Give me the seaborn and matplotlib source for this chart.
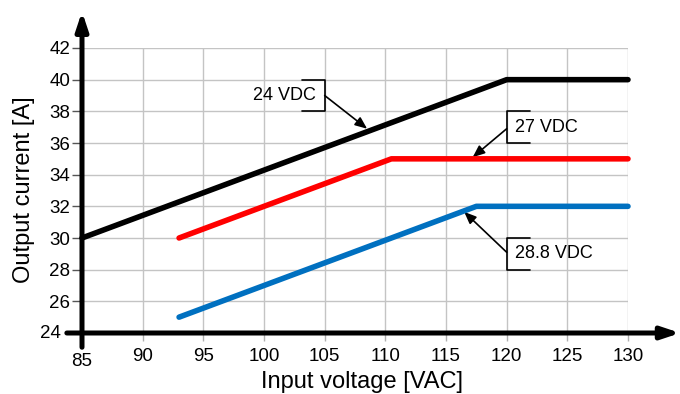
import pandas as pd
import matplotlib
matplotlib.use("Agg")
import matplotlib.pyplot as plt
import seaborn as sns

# derating curves: input voltage [VAC] -> output current [A]
voltage_24 = [85, 120, 130]
current_24 = [30, 40, 40]
voltage_27 = [93, 110.5, 130]
current_27 = [30, 35, 35]
voltage_288 = [93, 117.5, 130]
current_288 = [25, 32, 32]

series = ["24 VDC", "27 VDC", "28.8 VDC"]
colors = ["black", "#ff0000", "#0070c0"]

x_ticks = list(range(85, 131, 5))
y_ticks = list(range(24, 43, 2))

data = pd.concat([
    pd.DataFrame({"voltage": voltage_24, "current": current_24, "output": series[0]}),
    pd.DataFrame({"voltage": voltage_27, "current": current_27, "output": series[1]}),
    pd.DataFrame({"voltage": voltage_288, "current": current_288, "output": series[2]}),
])

sns.set_theme(style="white")
plt.rcParams["font.family"] = ["Liberation Sans", "DejaVu Sans"]
plt.rcParams["text.color"] = "black"

fig = plt.figure(figsize=(6.8, 3.94), dpi=100)
ax = fig.add_axes([82 / 680, 61 / 394, 546 / 680, 285 / 394])

sns.lineplot(data=data, x="voltage", y="current", hue="output",
             palette=colors, linewidth=4, solid_capstyle="round",
             legend=False, ax=ax, clip_on=False, zorder=5)

ax.set_xlim(85, 130)
ax.set_ylim(24, 42)
ax.set_xticks(x_ticks)
ax.set_yticks(y_ticks)
ax.set_xticklabels([""] + [str(v) for v in x_ticks[1:]])
ax.set_yticklabels([""] + [str(v) for v in y_ticks[1:]])
ax.grid(True, color="#c4c4c4", lw=1)
for s in ax.spines.values():
    s.set_visible(False)
ax.tick_params(axis="x", bottom=True, length=6, width=1, color="#b0b0b0",
               pad=5, labelsize=13.5, labelcolor="black")
ax.tick_params(axis="y", left=True, length=7, width=1, color="#555555",
               pad=1.5, labelsize=13.5, labelcolor="black")
ax.set_xlabel("")
ax.set_ylabel("")

# the 85 and 24 labels sit apart from the others
ax.annotate("85", xy=(85, 24), xytext=(0, -29), textcoords="offset pixels",
            ha="center", va="center", fontsize=13.5, annotation_clip=False)
ax.annotate("24", xy=(85, 24), xytext=(-21, 0), textcoords="offset pixels",
            ha="right", va="center", fontsize=13.5, annotation_clip=False)

# axis arrows
arrow = dict(arrowstyle="-|>,head_length=0.9,head_width=0.3", lw=3.6,
             color="black", shrinkA=0, shrinkB=0)
ax.annotate("", xy=(85, 44.3), xytext=(85, 23.1), arrowprops=arrow,
            annotation_clip=False, zorder=6)
ax.annotate("", xy=(134.3, 24), xytext=(83.75, 24), arrowprops=arrow,
            annotation_clip=False, zorder=6)

# callouts: bracket and pointer for every curve
thin = dict(color="black", lw=1.2)
pointer = dict(arrowstyle="-|>,head_length=0.6,head_width=0.25",
               lw=1.2, color="black", shrinkA=0, shrinkB=0)

ax.plot([103.1, 105, 105, 103.1], [40, 40, 38, 38], **thin, zorder=4)
ax.text(104.3, 39.0, "24 VDC", ha="right", va="center", fontsize=13, zorder=4)
ax.annotate("", xy=(108.5, 36.9), xytext=(105, 39), arrowprops=pointer, zorder=4)

ax.plot([121.9, 120, 120, 121.9], [38, 38, 36, 36], **thin, zorder=4)
ax.text(120.7, 37.0, "27 VDC", ha="left", va="center", fontsize=13, zorder=4)
ax.annotate("", xy=(117.2, 35.1), xytext=(120, 36.9), arrowprops=pointer, zorder=4)

ax.plot([121.9, 120, 120, 121.9], [30, 30, 28, 28], **thin, zorder=4)
ax.text(120.7, 29.05, "28.8 VDC", ha="left", va="center", fontsize=13, zorder=4)
ax.annotate("", xy=(116.5, 31.65), xytext=(120, 29.1), arrowprops=pointer, zorder=4)

fig.text(362 / 680, 6 / 394, "Input voltage [VAC]", ha="center", va="baseline",
         fontsize=17)
fig.text(30 / 680, 1 - 190 / 394, "Output current [A]", ha="center", va="baseline",
         rotation=90, rotation_mode="anchor", fontsize=17)

fig.savefig("out.png", dpi=100)
